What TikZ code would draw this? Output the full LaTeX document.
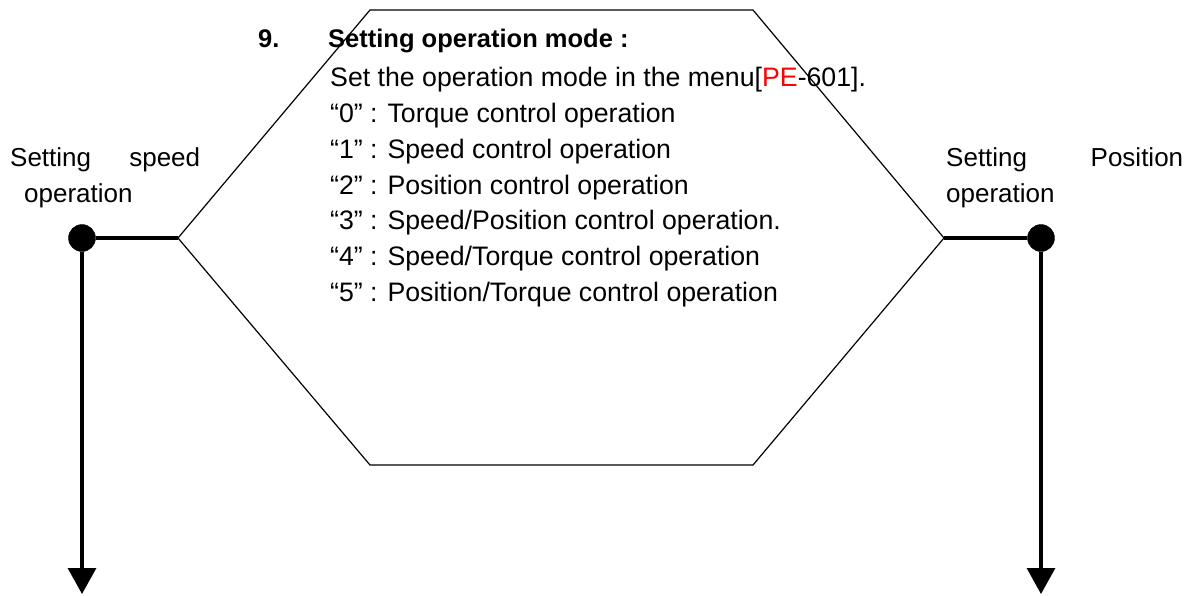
\documentclass[tikz,border=0pt]{standalone}
\usepackage{fontspec}
\setmainfont{Liberation Sans}
\usetikzlibrary{arrows.meta}

\begin{document}
\begin{tikzpicture}[x=1pt,y=-1pt,
  txt/.style={inner sep=0pt,font=\fontsize{26}{35.8}\selectfont},
  dot/.style={draw,circle,fill=black,minimum size=27pt,inner sep=0pt},
  link/.style={line width=3.2pt},
  edge/.style={line width=1.2pt,line join=miter}]
\useasboundingbox (0,0) rectangle (1194,595);
% hexagon corners
\coordinate (hexL) at (178,238);
\coordinate (hexTL) at (370,10);
\coordinate (hexTR) at (753,10);
\coordinate (hexR) at (944,238);
\coordinate (hexBR) at (753,465);
\coordinate (hexBL) at (370,465);
\draw[edge] (hexL) -- (hexTL) -- (hexTR) -- (hexR) -- (hexBR) -- (hexBL) -- cycle;
% texts (base = last line)
\node[txt,anchor=base west,font=\fontsize{25.5}{30}\selectfont\bfseries] (num) at (258,47) {9.};
\node[txt,anchor=base west,font=\fontsize{25.5}{30}\selectfont\bfseries] (title) at (328,47) {Setting operation mode :};
\node[txt,anchor=base west,align=left,font=\fontsize{26.7}{35.8}\selectfont] (modes) at (330,301.5) {Set the operation mode in the menu[\textcolor{red}{PE}-601].\\
“0” : Torque control operation\\
“1” : Speed control operation\\
“2” : Position control operation\\
“3” : Speed/Position control operation.\\
“4” : Speed/Torque control operation\\
“5” : Position/Torque control operation};
\node[txt,anchor=base west,align=left] (speedlbl) at (10,202) {\makebox[190pt][s]{Setting speed}\\\hspace*{14pt}operation};
\node[txt,anchor=base west,align=left] (poslbl) at (946,202) {\makebox[237pt][s]{Setting Position}\\operation};
% dots and arrows
\node[dot] (ldot) at (82,238) {};
\node[dot] (rdot) at (1041,238) {};
\coordinate (lend) at (82,594);
\coordinate (rend) at (1041,594);
\draw[link] (ldot) -- (hexL);
\draw[link] (rdot) -- (hexR);
\draw[link,-{Triangle[width=28pt,length=26pt]}] (ldot) -- (lend);
\draw[link,-{Triangle[width=28pt,length=26pt]}] (rdot) -- (rend);
\end{tikzpicture}
\end{document}
